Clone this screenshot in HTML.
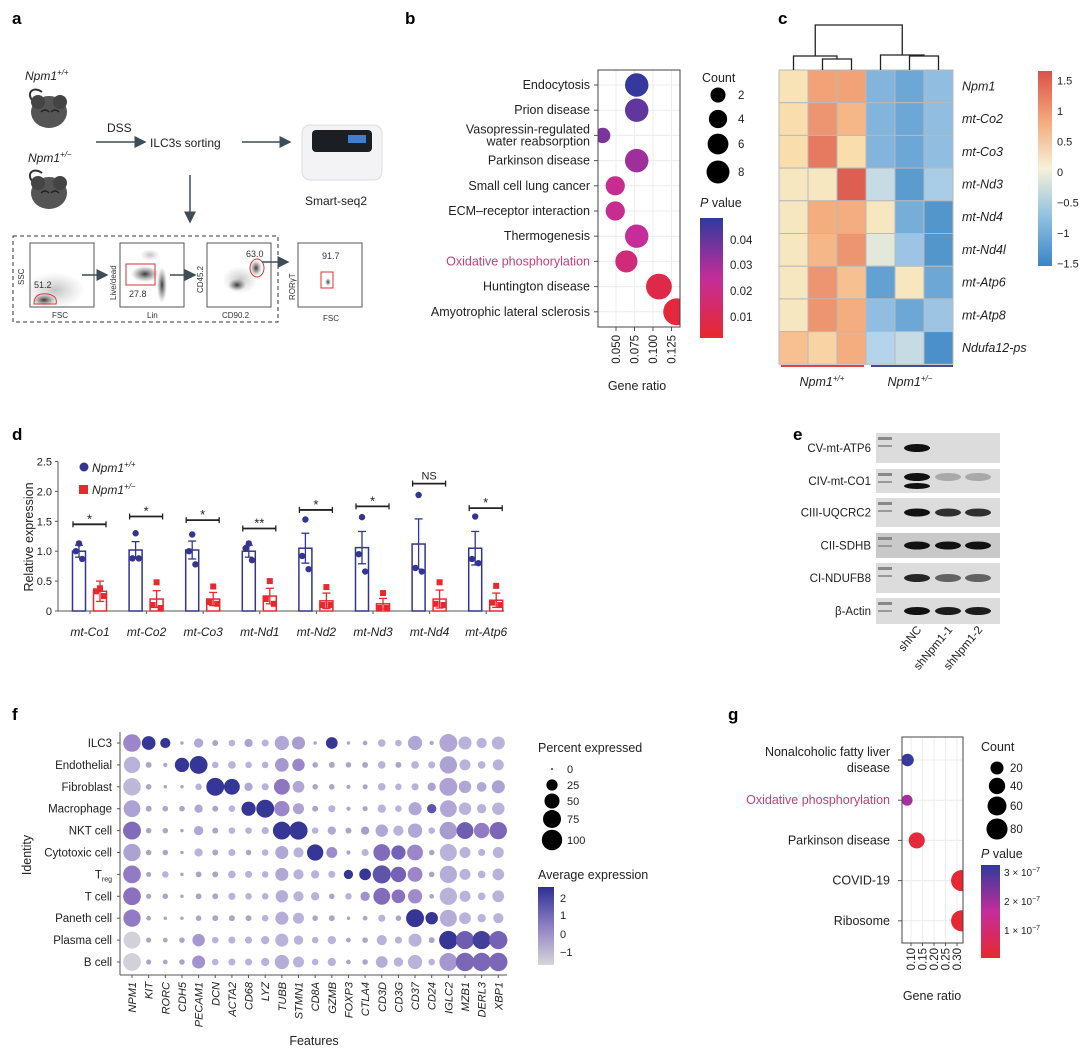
<!DOCTYPE html>
<html><head><meta charset="utf-8"><style>
html,body{margin:0;padding:0;background:#fff}
svg{display:block;font-family:"Liberation Sans",sans-serif}
.lab{font-size:12px;fill:#222}
.pl{font-size:17px;font-weight:bold;fill:#000}
.it{font-style:italic}
</style></head><body>
<svg id="fig" width="1080" height="1052" viewBox="0 0 1080 1052" xmlns="http://www.w3.org/2000/svg">
<defs>
<radialGradient id="blob"><stop offset="0" stop-color="#222" stop-opacity="0.9"/><stop offset="1" stop-color="#666" stop-opacity="0"/></radialGradient>
<radialGradient id="haze"><stop offset="0" stop-color="#888" stop-opacity="0.5"/><stop offset="1" stop-color="#aaa" stop-opacity="0"/></radialGradient>
<linearGradient id="pvb" x1="0" y1="0" x2="0" y2="1"><stop offset="0" stop-color="#2f3a9e"/><stop offset="0.5" stop-color="#c42d9a"/><stop offset="1" stop-color="#e8282e"/></linearGradient>
<linearGradient id="avg" x1="0" y1="0" x2="0" y2="1"><stop offset="0" stop-color="#2e3192"/><stop offset="0.5" stop-color="#8f7fc4"/><stop offset="1" stop-color="#d6d6da"/></linearGradient>
<linearGradient id="hmc" x1="0" y1="0" x2="0" y2="1"><stop offset="0" stop-color="#d9524a"/><stop offset="0.25" stop-color="#f3a77a"/><stop offset="0.5" stop-color="#f6f1d9"/><stop offset="0.75" stop-color="#8fc0e0"/><stop offset="1" stop-color="#3a85c4"/></linearGradient>
<marker id="arr" markerWidth="8" markerHeight="8" refX="7" refY="4" orient="auto"><path d="M0,0 L8,4 L0,8 z" fill="#3c4d57"/></marker>
</defs>

<!-- Panel a -->
<g>
<text class="pl" x="12" y="24">a</text>
<text class="lab it" x="25" y="80" font-size="12">Npm1<tspan dy="-5" font-size="8">+/+</tspan></text>
<g transform="translate(22,92)">
<path d="M10,8 C4,0 12,-6 20,0" fill="none" stroke="#333" stroke-width="2"/>
<ellipse cx="27" cy="20" rx="18" ry="16" fill="#555"/><circle cx="16" cy="10" r="7" fill="#444"/><circle cx="38" cy="10" r="7" fill="#444"/>
<path d="M19,20 q4,-4 8,0 M29,20 q4,-4 8,0" stroke="#222" stroke-width="1.5" fill="none"/>
</g>
<text class="lab it" x="28" y="162">Npm1<tspan dy="-5" font-size="8">+/−</tspan></text>
<g transform="translate(22,173)">
<path d="M10,8 C4,0 12,-6 20,0" fill="none" stroke="#333" stroke-width="2"/>
<ellipse cx="27" cy="20" rx="18" ry="16" fill="#555"/><circle cx="16" cy="10" r="7" fill="#444"/><circle cx="38" cy="10" r="7" fill="#444"/>
<path d="M19,20 q4,-4 8,0 M29,20 q4,-4 8,0" stroke="#222" stroke-width="1.5" fill="none"/>
</g>
<text class="lab" x="107" y="132" font-size="13">DSS</text>
<line x1="96" y1="142" x2="145" y2="142" stroke="#3c4d57" stroke-width="1.5" marker-end="url(#arr)"/>
<text class="lab" x="150" y="147" font-size="13">ILC3s sorting</text>
<line x1="242" y1="142" x2="290" y2="142" stroke="#3c4d57" stroke-width="1.5" marker-end="url(#arr)"/>
<g>
<rect x="302" y="125" width="80" height="55" rx="8" fill="#f3f3f5" stroke="#ddd"/>
<rect x="312" y="130" width="60" height="22" rx="4" fill="#1b1f24"/>
<rect x="348" y="135" width="18" height="8" fill="#3f7fd0"/>
</g>
<text class="lab" x="305" y="205" font-size="13">Smart-seq2</text>
<line x1="190" y1="175" x2="190" y2="222" stroke="#3c4d57" stroke-width="1.5" marker-end="url(#arr)"/>
<rect x="13" y="236" width="265" height="86" fill="none" stroke="#333" stroke-dasharray="4,3"/>
<g font-size="8" fill="#333">
<rect x="30" y="243" width="64" height="64" fill="#fff" stroke="#555"/>
<ellipse cx="55" cy="290" rx="30" ry="18" fill="url(#haze)"/><ellipse cx="44" cy="300" rx="12" ry="6" fill="url(#blob)"/>
<path d="M34,304 q0,-12 14,-10 q10,2 8,10 z" fill="none" stroke="#d33" stroke-width="1"/>
<text x="34" y="288" font-size="9">51.2</text><text x="52" y="318" font-size="8">FSC</text>
<text transform="translate(24,285) rotate(-90)" font-size="8">SSC</text>
<line x1="82" y1="275" x2="107" y2="275" stroke="#3c4d57" stroke-width="1.5" marker-end="url(#arr)"/>
<rect x="120" y="243" width="64" height="64" fill="#fff" stroke="#555"/>
<ellipse cx="150" cy="255" rx="10" ry="6" fill="url(#haze)"/><ellipse cx="145" cy="274" rx="14" ry="8" fill="url(#blob)"/><ellipse cx="162" cy="285" rx="5" ry="18" fill="url(#blob)"/>
<rect x="126" y="264" width="29" height="21" fill="none" stroke="#d33"/>
<text x="129" y="297" font-size="9">27.8</text><text x="147" y="318" font-size="8">Lin</text>
<text transform="translate(116,300) rotate(-90)" font-size="8">Live/dead</text>
<line x1="170" y1="275" x2="195" y2="275" stroke="#3c4d57" stroke-width="1.5" marker-end="url(#arr)"/>
<rect x="207" y="243" width="64" height="64" fill="#fff" stroke="#555"/>
<ellipse cx="240" cy="280" rx="18" ry="14" fill="url(#haze)"/><ellipse cx="237" cy="285" rx="9" ry="6" fill="url(#blob)"/><ellipse cx="256" cy="268" rx="6" ry="8" fill="url(#blob)"/>
<ellipse cx="257" cy="268" rx="7" ry="9" fill="none" stroke="#d33"/>
<text x="246" y="257" font-size="9">63.0</text><text x="222" y="318" font-size="8">CD90.2</text>
<text transform="translate(203,293) rotate(-90)" font-size="8">CD45.2</text>
<line x1="262" y1="262" x2="288" y2="262" stroke="#3c4d57" stroke-width="1.5" marker-end="url(#arr)"/>
<rect x="298" y="243" width="64" height="64" fill="#fff" stroke="#555"/>
<ellipse cx="328" cy="282" rx="3" ry="4" fill="url(#blob)"/><rect x="321" y="272" width="12" height="16" fill="none" stroke="#d33"/>
<text x="322" y="259" font-size="9">91.7</text><text x="323" y="321" font-size="8">FSC</text>
<text transform="translate(295,300) rotate(-90)" font-size="8">RORγT</text>
</g>
</g>

<text class="pl" x="405" y="24">b</text>
<g id="pb"></g>
<text class="pl" x="778" y="24">c</text>
<g id="pc"></g>
<text class="pl" x="12" y="440">d</text>
<g id="pd"></g>
<text class="pl" x="793" y="440">e</text>
<g id="pe"></g>
<text class="pl" x="12" y="720">f</text>
<g id="pf"></g>
<text class="pl" x="728" y="720">g</text>
<g id="pg"></g>
</svg>
<script>
// ---------- Panel b data ----------
const bTerms = ["Endocytosis","Prion disease","Vasopressin-regulated|water reabsorption","Parkinson disease","Small cell lung cancer","ECM–receptor interaction","Thermogenesis","Oxidative phosphorylation","Huntington disease","Amyotrophic lateral sclerosis"];
const bRatio = [0.078,0.078,0.032,0.078,0.049,0.049,0.078,0.064,0.108,0.132];
const bCount = [7,7,2,7,4,4,7,6,9,10];
const bPval = [0.047,0.040,0.036,0.030,0.022,0.022,0.024,0.016,0.006,0.003];
const bTicks = [0.050,0.075,0.100,0.125];
// ---------- Panel c data ----------
const cGenes = ["Npm1","mt-Co2","mt-Co3","mt-Nd3","mt-Nd4","mt-Nd4l","mt-Atp6","mt-Atp8","Ndufa12-ps"];
const cZ = [
[0.3,1.0,1.0,-0.8,-1.0,-0.7],
[0.4,1.1,0.8,-0.8,-1.0,-0.7],
[0.4,1.3,0.4,-0.8,-1.0,-0.7],
[0.2,0.2,1.5,-0.3,-1.2,-0.5],
[0.2,0.9,0.9,0.2,-0.9,-1.3],
[0.2,0.8,1.1,-0.1,-0.6,-1.3],
[0.2,1.1,0.7,-1.1,0.2,-1.0],
[0.2,1.1,0.9,-0.7,-1.0,-0.6],
[0.7,0.5,0.9,-0.4,-0.3,-1.4]];
const cTicks = [1.5,1,0.5,0,-0.5,-1,-1.5];
// ---------- Panel d data ----------
const dGenes = ["mt-Co1","mt-Co2","mt-Co3","mt-Nd1","mt-Nd2","mt-Nd3","mt-Nd4","mt-Atp6"];
const dWtMean = [1.0,1.02,1.02,1.0,1.05,1.06,1.12,1.05];
const dWtSem = [0.1,0.14,0.15,0.1,0.25,0.27,0.42,0.28];
const dWtPts = [[1.13,1.0,0.87],[1.3,0.88,0.88],[1.28,1.0,0.78],[1.13,1.05,0.85],[1.53,0.92,0.7],[1.57,0.95,0.66],[1.94,0.72,0.66],[1.58,0.87,0.8]];
const dHetMean = [0.33,0.2,0.2,0.25,0.17,0.12,0.2,0.18];
const dHetSem = [0.17,0.14,0.11,0.13,0.13,0.09,0.15,0.12];
const dHetPts = [[0.38,0.33,0.25],[0.48,0.1,0.05],[0.41,0.15,0.12],[0.5,0.2,0.12],[0.4,0.1,0.1],[0.3,0.05,0.05],[0.48,0.12,0.1],[0.42,0.14,0.1]];
const dSig = ["*","*","*","**","*","*","NS","*"];
const dSigY = [1.45,1.58,1.52,1.38,1.69,1.75,2.13,1.72];
const dTicks = [0,0.5,1.0,1.5,2.0,2.5];
// ---------- Panel f data ----------
const fRows = ["ILC3","Endothelial","Fibroblast","Macrophage","NKT cell","Cytotoxic cell","Treg","T cell","Paneth cell","Plasma cell","B cell"];
const fCols = ["NPM1","KIT","RORC","CDH5","PECAM1","DCN","ACTA2","CD68","LYZ","TUBB","STMN1","CD8A","GZMB","FOXP3","CTLA4","CD3D","CD3G","CD37","CD24","IGLC2","MZB1","DERL3","XBP1"];
const fPct = [
[88,50,25,1,20,6,8,15,10,55,45,1,35,1,3,12,8,55,2,92,45,25,45],
[75,6,2,55,92,8,12,8,8,50,40,5,6,5,6,12,6,12,10,85,30,12,30],
[88,5,1,1,8,92,70,15,10,70,35,5,5,2,4,12,8,10,15,92,40,22,45],
[80,6,5,5,15,6,8,55,92,65,30,6,10,2,4,15,8,45,20,80,40,20,40],
[92,5,5,1,20,6,8,8,10,92,95,8,15,6,15,40,25,55,8,88,80,65,85],
[85,5,5,1,15,6,10,5,8,45,25,75,30,2,10,80,55,70,5,82,30,10,30],
[90,4,8,1,6,6,12,10,8,45,25,15,10,20,35,95,65,60,5,85,30,12,35],
[90,4,5,1,6,6,10,8,8,40,25,15,5,8,20,80,50,55,3,85,30,12,35],
[85,3,1,1,5,6,6,6,8,45,30,5,6,1,3,10,5,92,40,82,35,15,25],
[82,4,3,5,40,8,10,10,15,45,20,8,15,3,5,25,10,45,6,98,95,95,95],
[90,4,3,5,45,8,10,10,15,55,30,8,15,3,5,35,20,55,8,92,98,98,98]];
const fExpr = [
[0.8,2.4,2.4,0,0.2,0,0,0.3,0,0.2,0.4,0,2.4,0,0,0,0,0.2,0,0.2,0,0,0],
[0,0,0,2.4,2.4,0,0,0,0,0.5,0.8,0,0,0,0,0,0,0,0,0.3,0,0,0],
[-0.2,0,0,0,0,2.4,2.4,0.2,0,1.1,0.2,0,0,0,0,0,0,0,0.3,0.3,0.2,0.2,0.3],
[0.3,0,0,0,0.2,0,0,2.4,2.4,0.8,0.3,0,0,0,0,0,0,0.2,1.8,0.2,0,0,0],
[1.3,0,0,0,0.2,0,0,0,0,2.4,2.4,0,0.2,0,0.4,0.2,0,0.2,0,0.4,1.6,1.0,1.4],
[0.3,0,0,0,0,0,0,0,0,0.2,0,2.4,0.7,0,0,1.3,1.5,0.8,0,0,0,0,0],
[1.0,0,0,0,0,0,0,0,0,0.2,0,0,0,2.4,2.4,1.8,1.5,0.8,0,0.1,0,0,0],
[1.2,0,0,0,0,0,0,0,0,0.1,0,0,0,0,0.6,1.3,1.2,0.7,0,0,0,0,0],
[1.0,0,0,0,0,0,0,0,0,0.1,0,0,0,0,0,0,0,2.4,2.4,0.1,0,0,0],
[-1.3,0,0,0,0.5,0,0,0,0,0,0,0,0,0,0,0,0,0,0,2.4,1.6,2.2,1.5],
[-1.3,0,0,0,0.6,0,0,0,0,0.1,0,0,0,0,0,0.1,0,0,0,0.5,1.4,1.4,1.4]];
const fPctTicks = [0,25,50,75,100];
const fExprTicks = [2,1,0,-1];
// ---------- Panel g data ----------
const gTerms = ["Nonalcoholic fatty liver|disease","Oxidative phosphorylation","Parkinson disease","COVID-19","Ribosome"];
const gRatio = [0.085,0.083,0.125,0.32,0.32];
const gCount = [22,15,45,90,90];
const gPval = [3.2e-7,2.0e-7,0.2e-7,0.1e-7,0.1e-7];
const gTicks = [0.10,0.15,0.20,0.25,0.30];
const gCountTicks = [20,40,60,80];

const NS="http://www.w3.org/2000/svg";
function mk(parent,tag,attrs,txt){const e=document.createElementNS(NS,tag);for(const k in attrs)e.setAttribute(k,attrs[k]);if(txt!==undefined)e.textContent=txt;parent.appendChild(e);return e;}
function lerp(a,b,t){return a+(b-a)*t;}
function hex(h){return [parseInt(h.slice(1,3),16),parseInt(h.slice(3,5),16),parseInt(h.slice(5,7),16)];}
function ramp(stops,t){t=Math.max(0,Math.min(1,t));for(let i=0;i<stops.length-1;i++){const [t0,c0]=stops[i],[t1,c1]=stops[i+1];if(t<=t1){const u=(t-t0)/(t1-t0||1);const a=hex(c0),b=hex(c1);return `rgb(${a.map((v,j)=>Math.round(lerp(v,b[j],u))).join(',')})`;}}return stops[stops.length-1][1];}
const pvStops=[[0,"#e8282e"],[0.5,"#c42d9a"],[1,"#2f3a9e"]];

// ---------- Panel b ----------
(function(){
const g=document.getElementById('pb');
const x0=598,x1=680,y0=70,y1=327;
const xs=v=>616+(v-0.05)/0.025*18.5;
const ys=i=>85+i*25.2;
const rs=c=>3+Math.sqrt(c)*3.3;
mk(g,'rect',{x:x0,y:y0,width:x1-x0,height:y1-y0,fill:'#fff'});
const grid=mk(g,'g',{stroke:'#ececec','stroke-width':1});
bTicks.forEach(t=>mk(grid,'line',{x1:xs(t),x2:xs(t),y1:y0,y2:y1}));
bTerms.forEach((_,i)=>mk(grid,'line',{x1:x0,x2:x1,y1:ys(i),y2:ys(i)}));
const clip=mk(g,'clipPath',{id:'clipb'});mk(clip,'rect',{x:x0,y:y0,width:x1-x0,height:y1-y0});
const dots=mk(g,'g',{'clip-path':'url(#clipb)'});
bTerms.forEach((t,i)=>{
 const c=mk(dots,'circle',{cx:xs(bRatio[i]),cy:ys(i),r:rs(bCount[i]),fill:ramp(pvStops,bPval[i]/0.048)});
 
 
 const parts=t.split('|');
 parts.forEach((p,j)=>{
  const tx=mk(g,'text',{x:590,y:ys(i)+4+(parts.length>1?(j-0.5)*12:0),'text-anchor':'end','font-size':12.5,fill:i===7?'#c4407a':'#222'},p);
  
  
 });
 mk(g,'line',{x1:x0-4,x2:x0,y1:ys(i),y2:ys(i),stroke:'#555'});
});
mk(g,'rect',{x:x0,y:y0,width:x1-x0,height:y1-y0,fill:'none',stroke:'#444'});
bTicks.forEach(t=>{mk(g,'line',{x1:xs(t),x2:xs(t),y1:y1,y2:y1+4,stroke:'#555'});
 const tx=mk(g,'text',{transform:`translate(${xs(t)+4},${y1+8}) rotate(-90)`,'text-anchor':'end','font-size':11.5,fill:'#222'},t.toFixed(3));
 });
const xt=mk(g,'text',{x:637,y:390,'text-anchor':'middle','font-size':12.5,fill:'#222'},'Gene ratio');

mk(g,'text',{x:702,y:82,'font-size':12.5,fill:'#222'},'Count');
[[2,95],[4,119],[6,144],[8,172]].forEach(([c,y])=>{const e=mk(g,'circle',{cx:718,cy:y,r:rs(c)*0.85+1,fill:'#000'});mk(g,'text',{x:738,y:y+4,'font-size':11.5,fill:'#222'},String(c));});
const pt=mk(g,'text',{x:700,y:207,'font-size':12.5,fill:'#222'});pt.innerHTML='<tspan font-style="italic">P</tspan> value';
const cb=mk(g,'rect',{x:700,y:218,width:23,height:120,fill:'url(#pvb)'});
[[0.04,240],[0.03,265],[0.02,291],[0.01,317]].forEach(([v,y])=>{mk(g,'text',{x:730,y:y+4,'font-size':11.5,fill:'#222'},v.toFixed(2));});
})();

// ---------- Panel c ----------
(function(){
const g=document.getElementById('pc');
const x0=779,y0=70,cw=29,ch=32.7;
const hmStops=[[0,"#3a85c4"],[0.2,"#6fa9d6"],[0.37,"#b4d3ea"],[0.5,"#f3efd6"],[0.62,"#f9dfae"],[0.8,"#f3a77a"],[1,"#d9524a"]];
cZ.forEach((row,i)=>{row.forEach((v,j)=>{
 const r=mk(g,'rect',{x:x0+j*cw,y:y0+i*ch,width:cw,height:ch,fill:ramp(hmStops,(v+1.6)/3.2),stroke:'#b9b9b9','stroke-width':1});
 
 });
 const t=mk(g,'text',{x:962,y:y0+i*ch+ch/2+4,'font-size':12.5,'font-style':'italic',fill:'#222'},cGenes[i]);
 
});
const cx=j=>x0+j*cw+cw/2;
const dd=mk(g,'path',{fill:'none',stroke:'#222','stroke-width':1.3,d:
 `M${cx(1)},70 V59 H${cx(2)} V70 M${cx(0)},70 V56 H${(cx(1)+cx(2))/2} V59 M${cx(4)},70 V56 H${cx(5)} V70 M${cx(3)},70 V55 H${(cx(4)+cx(5))/2} V56 M${(cx(0)+(cx(1)+cx(2))/2)/2},56 V25 H${(cx(3)+(cx(4)+cx(5))/2)/2} V55`});

mk(g,'line',{x1:781,x2:864,y1:366,y2:366,stroke:'#e04444','stroke-width':2});
mk(g,'line',{x1:871,x2:953,y1:366,y2:366,stroke:'#444c94','stroke-width':2});
mk(g,'text',{x:822,y:386,'text-anchor':'middle','font-size':12.5,'font-style':'italic',fill:'#222'}).innerHTML='Npm1<tspan dy="-5" font-size="8">+/+</tspan>';
mk(g,'text',{x:910,y:386,'text-anchor':'middle','font-size':12.5,'font-style':'italic',fill:'#222'}).innerHTML='Npm1<tspan dy="-5" font-size="8">+/−</tspan>';
const cb=mk(g,'rect',{x:1038,y:71,width:14,height:195,fill:'url(#hmc)'});
cTicks.forEach(v=>{const y=172-v*61;mk(g,'text',{x:1057,y:y+4,'font-size':11,fill:'#222'},(v<0?'−':'')+Math.abs(v));});
})();

// ---------- Panel d ----------
(function(){
const g=document.getElementById('pd');
const ys=v=>611-v*59.8;
const xc=i=>90+i*56.6;
const blue='#33358f',red='#e8282e';
mk(g,'line',{x1:58,x2:58,y1:ys(2.5),y2:611,stroke:'#555'});
mk(g,'line',{x1:58,x2:504,y1:611,y2:611,stroke:'#555'});
dTicks.forEach(t=>{mk(g,'line',{x1:55,x2:58,y1:ys(t),y2:ys(t),stroke:'#555'});
 const tx=mk(g,'text',{x:52,y:ys(t)+4,'text-anchor':'end','font-size':11,fill:'#222'},t===0?'0':t.toFixed(1));
 });
const yt=mk(g,'text',{transform:'translate(33,537) rotate(-90)','text-anchor':'middle','font-size':12.5,fill:'#222'},'Relative expression');

dGenes.forEach((gn,i)=>{
 const xb=xc(i)-11,xr=xc(i)+10,w=13;
 [[xb,dWtMean,dWtSem,dWtPts,blue,'wt'],[xr,dHetMean,dHetSem,dHetPts,red,'het']].forEach(([x,m,s,p,col,k])=>{
  const b=mk(g,'rect',{x:x-w/2,y:ys(m[i]),width:w,height:611-ys(m[i]),fill:'#fff',stroke:col,'stroke-width':1.5});
  
  mk(g,'line',{x1:x,x2:x,y1:ys(m[i]-s[i]),y2:ys(m[i]+s[i]),stroke:col,'stroke-width':1.3});
  mk(g,'line',{x1:x-4,x2:x+4,y1:ys(m[i]+s[i]),y2:ys(m[i]+s[i]),stroke:col,'stroke-width':1.3});
  mk(g,'line',{x1:x-4,x2:x+4,y1:ys(m[i]-s[i]),y2:ys(m[i]-s[i]),stroke:col,'stroke-width':1.3});
  p[i].forEach((v,j)=>{const dx=[0,-4,4][j]*(k==='wt'?0.8:1);
   const pt=k==='wt'?mk(g,'circle',{cx:x+dx,cy:ys(v),r:3.2,fill:col}):mk(g,'rect',{x:x+dx-3,y:ys(v)-3,width:6,height:6,fill:col});
   });
 });
 mk(g,'line',{x1:xb-6,x2:xr+6,y1:ys(dSigY[i]),y2:ys(dSigY[i]),stroke:'#222','stroke-width':1.8});
 mk(g,'line',{x1:xb-6,x2:xb-6,y1:ys(dSigY[i])-3,y2:ys(dSigY[i])+3,stroke:'#222','stroke-width':1.3});
 mk(g,'line',{x1:xr+6,x2:xr+6,y1:ys(dSigY[i])-3,y2:ys(dSigY[i])+3,stroke:'#222','stroke-width':1.3});
 mk(g,'text',{x:(xb+xr)/2,y:ys(dSigY[i])-(dSig[i]==='NS'?4:1),'text-anchor':'middle','font-size':dSig[i]==='NS'?11:13,fill:'#222'},dSig[i]);
 mk(g,'line',{x1:xc(i),x2:xc(i),y1:611,y2:614,stroke:'#555'});
 const lt=mk(g,'text',{x:xc(i),y:636,'text-anchor':'middle','font-size':12,'font-style':'italic',fill:'#222'},gn);
 
});
mk(g,'circle',{cx:84,cy:467,r:4.5,fill:blue});
mk(g,'text',{x:92,y:472,'font-size':12,'font-style':'italic',fill:'#222'}).innerHTML='Npm1<tspan dy="-5" font-size="8">+/+</tspan>';
mk(g,'rect',{x:79,y:485,width:9,height:9,fill:red});
mk(g,'text',{x:92,y:494,'font-size':12,'font-style':'italic',fill:'#222'}).innerHTML='Npm1<tspan dy="-5" font-size="8">+/−</tspan>';
})();

// ---------- Panel e ----------
(function(){
const g=document.getElementById('pe');
const rows=[["CV-mt-ATP6",433,463],["CIV-mt-CO1",469,493],["CIII-UQCRC2",498,527],["CII-SDHB",533,558],["CI-NDUFB8",563,593],["β-Actin",598,624]];
const bands=[[1,0,0],[1,0.25,0.25],[1,0.85,0.85],[1,1,1],[0.9,0.6,0.6],[1,0.95,0.95]];
const lanes=[917,948,978];
rows.forEach(([n,y0,y1],i)=>{
 const r=mk(g,'rect',{x:876,y:y0,width:124,height:y1-y0,fill:i===3?'#c9c9c9':'#dcdcdc'});
 
 mk(g,'rect',{x:878,y:y0+4,width:14,height:3,fill:'#888'});mk(g,'rect',{x:878,y:y0+12,width:14,height:2,fill:'#999'});
 lanes.forEach((x,j)=>{const a=bands[i][j];if(a>0.05)mk(g,'ellipse',{cx:x,cy:(y0+y1)/2+(i===1?-4:0),rx:13,ry:4,fill:'#111','fill-opacity':a});
  if(i===1&&j===0)mk(g,'ellipse',{cx:x,cy:(y0+y1)/2+5,rx:13,ry:3,fill:'#111'});});
 const t=mk(g,'text',{x:871,y:(y0+y1)/2+4,'text-anchor':'end','font-size':11.5,fill:'#222'},n);
 
});
["shNC","shNpm1-1","shNpm1-2"].forEach((l,j)=>{mk(g,'text',{transform:`translate(${lanes[j]+5},630) rotate(-50)`,'text-anchor':'end','font-size':11.5,fill:'#222'},l);});
})();

// ---------- Panel f ----------
(function(){
const g=document.getElementById('pf');
const xs=j=>132+j*16.65, ys=i=>743+i*21.9;
const rs=p=>0.9+Math.sqrt(p/100)*8.4;
const exStops=[[0,"#d6d6da"],[0.375,"#b9b2da"],[0.675,"#8a70bf"],[1,"#2e3192"]];
const col=e=>ramp(exStops,(e+1.5)/4);
mk(g,'line',{x1:120,x2:120,y1:732,y2:975,stroke:'#555'});
mk(g,'line',{x1:120,x2:507,y1:975,y2:975,stroke:'#555'});
fRows.forEach((r,i)=>{
 mk(g,'line',{x1:117,x2:120,y1:ys(i),y2:ys(i),stroke:'#555'});
 const t=mk(g,'text',{x:112,y:ys(i)+4,'text-anchor':'end','font-size':11.5,fill:'#222'});
 if(r==='Treg')t.innerHTML='T<tspan font-size="7" dy="3">reg</tspan>';else t.textContent=r;
 
 fCols.forEach((c,j)=>{const p=fPct[i][j];
  const d=mk(g,'circle',{cx:xs(j),cy:ys(i),r:rs(p),fill:p<7?'#a9a6c6':col(fExpr[i][j])});
  });
});
fCols.forEach((c,j)=>{mk(g,'line',{x1:xs(j),x2:xs(j),y1:975,y2:978,stroke:'#555'});
 const t=mk(g,'text',{transform:`translate(${xs(j)+4},982) rotate(-90)`,'text-anchor':'end','font-size':11,'font-style':'italic',fill:'#222'},c);
 });
mk(g,'text',{x:314,y:1045,'text-anchor':'middle','font-size':12.5,fill:'#222'},'Features');
mk(g,'text',{transform:'translate(31,855) rotate(-90)','text-anchor':'middle','font-size':12.5,fill:'#222'},'Identity');
mk(g,'text',{x:538,y:752,'font-size':12.5,fill:'#222'},'Percent expressed');
[[0,769],[25,785],[50,801],[75,819],[100,840]].forEach(([p,y])=>{mk(g,'circle',{cx:552,cy:y,r:p===0?0.9:rs(p)*1.1,fill:'#000'});mk(g,'text',{x:567,y:y+4,'font-size':11,fill:'#222'},String(p));});
mk(g,'text',{x:538,y:879,'font-size':12.5,fill:'#222'},'Average expression');
mk(g,'rect',{x:538,y:887,width:16,height:78,fill:'url(#avg)'});
[[2,898],[1,915],[0,934],[-1,952]].forEach(([v,y])=>mk(g,'text',{x:560,y:y+4,'font-size':11,fill:'#222'},(v<0?'−':'')+Math.abs(v)));
})();

// ---------- Panel g ----------
(function(){
const g=document.getElementById('pg');
const x0=902,x1=963,y0=737,y1=943;
const xs=v=>911+(v-0.10)/0.05*11.5, ys=i=>760+i*40.2;
const rs=c=>2+Math.sqrt(c)*0.9;
const grid=mk(g,'g',{stroke:'#ececec'});
gTicks.forEach(t=>mk(grid,'line',{x1:xs(t),x2:xs(t),y1:y0,y2:y1}));
gTerms.forEach((_,i)=>mk(grid,'line',{x1:x0,x2:x1,y1:ys(i),y2:ys(i)}));
const clip=mk(g,'clipPath',{id:'clipg'});mk(clip,'rect',{x:x0,y:y0,width:x1-x0,height:y1-y0});
const dots=mk(g,'g',{'clip-path':'url(#clipg)'});
gTerms.forEach((t,i)=>{
 const d=mk(dots,'circle',{cx:xs(gRatio[i]),cy:ys(i),r:rs(gCount[i]),fill:ramp(pvStops,gPval[i]/3.3e-7)});
 
 const parts=t.split('|');
 parts.forEach((p,j)=>{const tx=mk(g,'text',{x:890,y:ys(i)+4+(parts.length>1?(j-0.5)*16:0),'text-anchor':'end','font-size':12.5,fill:i===1?'#c4407a':'#222'},p);
  });
 mk(g,'line',{x1:x0-4,x2:x0,y1:ys(i),y2:ys(i),stroke:'#555'});
});
mk(g,'rect',{x:x0,y:y0,width:x1-x0,height:y1-y0,fill:'none',stroke:'#444'});
gTicks.forEach(t=>{mk(g,'line',{x1:xs(t),x2:xs(t),y1:y1,y2:y1+3,stroke:'#555'});
 mk(g,'text',{transform:`translate(${xs(t)+4},${y1+5}) rotate(-90)`,'text-anchor':'end','font-size':11.5,fill:'#222'},t.toFixed(2));});
mk(g,'text',{x:932,y:1000,'text-anchor':'middle','font-size':12.5,fill:'#222'},'Gene ratio');
mk(g,'text',{x:981,y:751,'font-size':12.5,fill:'#222'},'Count');
[[20,768],[40,786],[60,806],[80,829]].forEach(([c,y])=>{mk(g,'circle',{cx:997,cy:y,r:rs(c)+0.5,fill:'#000'});mk(g,'text',{x:1010,y:y+4,'font-size':11.5,fill:'#222'},String(c));});
mk(g,'text',{x:981,y:858,'font-size':12.5,fill:'#222'}).innerHTML='<tspan font-style="italic">P</tspan> value';
mk(g,'rect',{x:981,y:865,width:19,height:93,fill:'url(#pvb)'});
[[3,872],[2,901],[1,930]].forEach(([v,y])=>mk(g,'text',{x:1004,y:y+4,'font-size':10,fill:'#222'}).innerHTML=v+' × 10<tspan dy="-4" font-size="7">−7</tspan>');
})();
</script>
</body></html>
